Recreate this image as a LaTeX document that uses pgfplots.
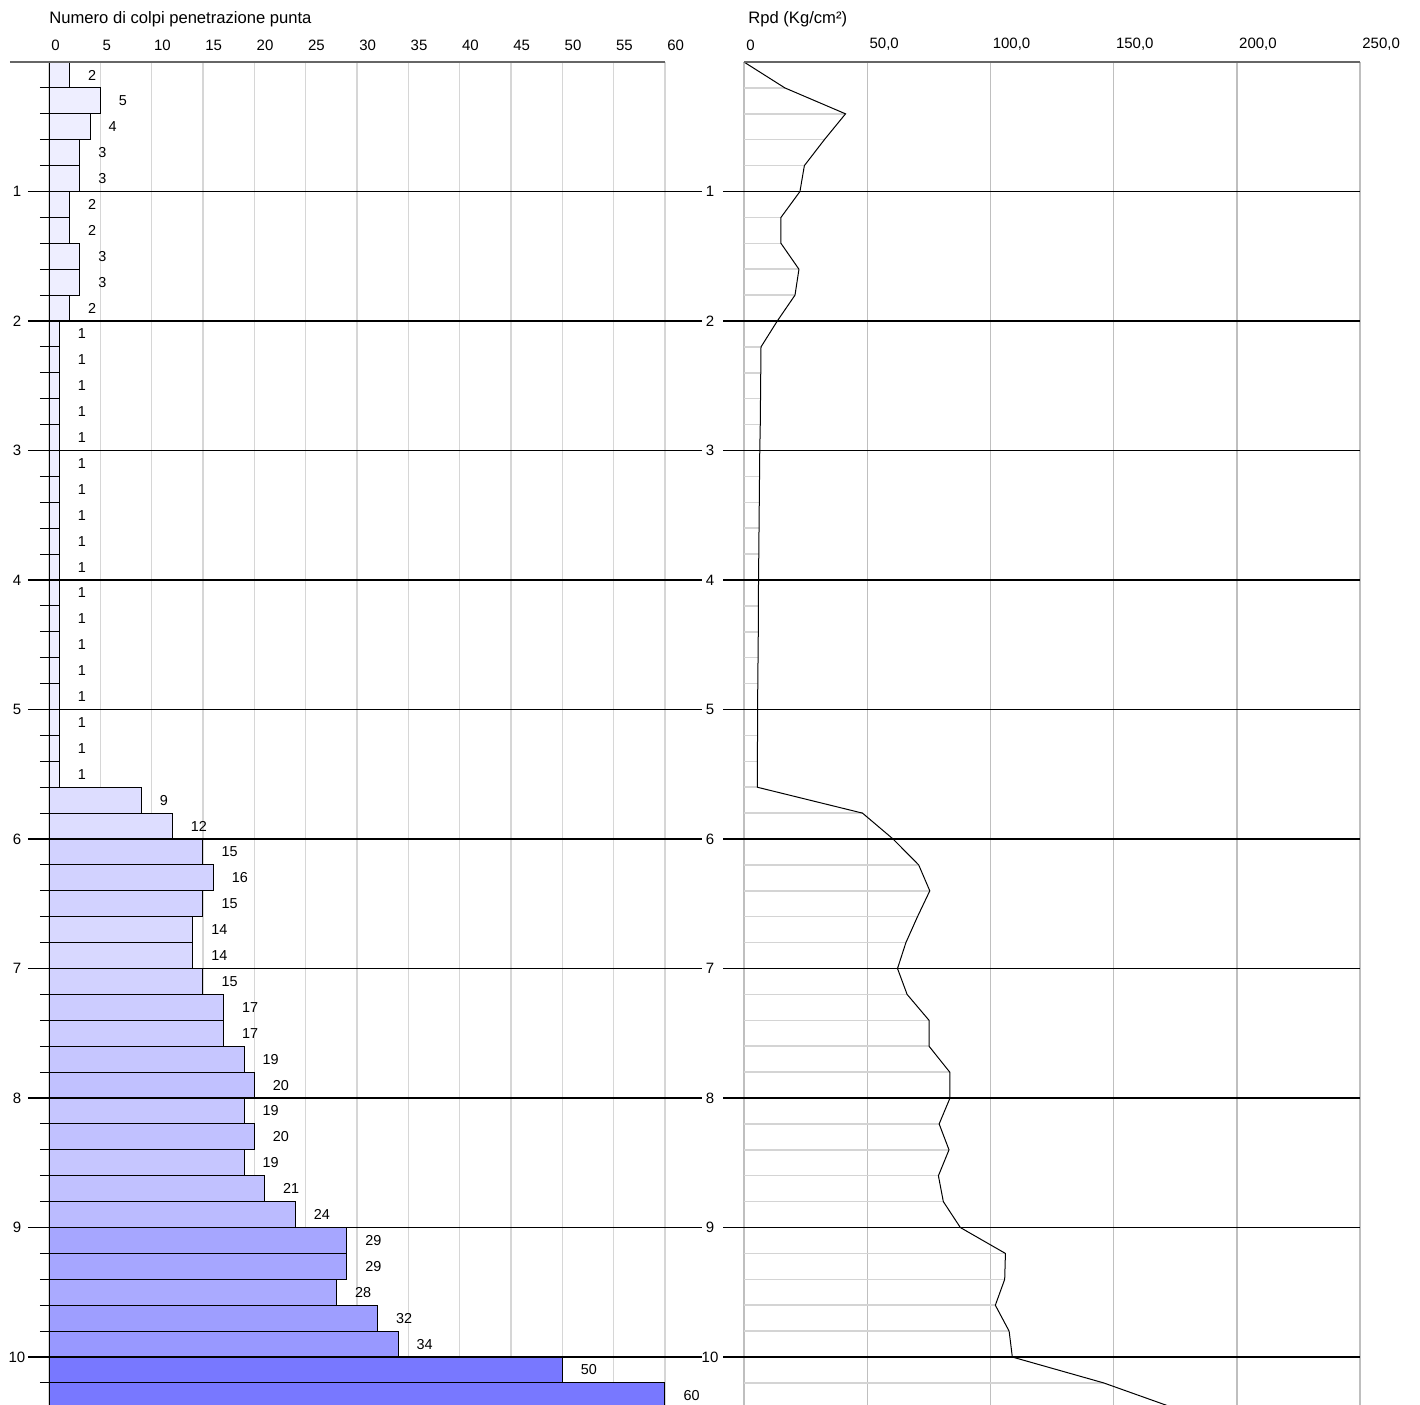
\documentclass[border=0pt]{standalone}
\usepackage{pgfplots}
\pgfplotsset{compat=1.18}
\usepackage{pgfplotstable}
\usepackage{fontspec}
\setmainfont{Liberation Sans}

\definecolor{bA}{RGB}{238,238,255}
\definecolor{bB}{RGB}{221,221,255}
\definecolor{bC}{RGB}{216,216,255}
\definecolor{bD}{RGB}{210,210,255}
\definecolor{bE}{RGB}{204,204,255}
\definecolor{bF}{RGB}{198,198,255}
\definecolor{bG}{RGB}{193,193,255}
\definecolor{bH}{RGB}{187,187,255}
\definecolor{bI}{RGB}{170,170,255}
\definecolor{bJ}{RGB}{166,166,255}
\definecolor{bK}{RGB}{158,158,255}
\definecolor{bL}{RGB}{152,152,255}
\definecolor{bM}{RGB}{120,120,255}

\pgfplotstableread{
d rpd
0.0 0
0.2 16.6
0.4 41.2
0.6 32.6
0.8 24.5
1.0 22.7
1.2 15.0
1.4 15.0
1.6 22.3
1.8 20.7
2.0 13.5
2.2 6.9
2.4 6.8
2.6 6.7
2.8 6.6
3.0 6.4
3.2 6.3
3.4 6.2
3.6 6.1
3.8 6.0
4.0 5.9
4.2 5.8
4.4 5.8
4.6 5.7
4.8 5.6
5.0 5.5
5.2 5.5
5.4 5.4
5.6 5.4
5.8 48.1
6.0 60.5
6.2 70.9
6.4 75.4
6.6 70.4
6.8 65.7
7.0 62.3
7.2 66.2
7.4 75.1
7.6 75.1
7.8 83.5
8.0 83.6
8.2 79.2
8.4 83.2
8.6 78.9
8.8 80.9
9.0 87.8
9.2 106.1
9.4 105.8
9.6 102.0
9.8 107.6
10.0 108.9
10.2 146.0
10.4 175.5
}\rpdtable

\pgfplotsset{
  panel/.style={
    scale only axis, width=308pt, height=673.4pt,
    ymin=0, ymax=10.4, y dir=reverse, enlargelimits=false, clip=false,
    axis line style={draw=none},
    /pgf/number format/assume math mode=true,
    xticklabel pos=upper,
    xmajorgrids,
    xtick style={draw=none},
    major tick length=0pt,
    ytick={1,...,10},
    ytick pos=left,
    tick align=outside,
    xticklabel style={anchor=south west, inner sep=0pt, xshift=1pt, yshift=5.5pt, font=\fontsize{7.5}{9}\selectfont},
    yticklabel style={anchor=center, inner sep=0pt, font=\fontsize{7.5}{9}\selectfont},
    title style={at={(0,1)}, anchor=base west, inner sep=0pt, yshift=13.5pt, font=\fontsize{8.3}{10}\selectfont},
  },
  barst/.style={xbar, bar width=0.2, bar shift=0pt, draw=black, line width=0.5pt,
    point meta=x, nodes near coords,
    every node near coord/.append style={anchor=west, xshift=5.7pt, black, font=\fontsize{7.2}{8}\selectfont}},
  meter/.style={black, line width=0.7pt, forget plot},
}

\begin{document}
\begin{tikzpicture}
% ---------------- left panel ----------------
\begin{axis}[panel, at={(24.5pt,-31pt)}, anchor=north west,
  xmin=0, xmax=60, xtick={0,5,...,60},
  grid style={color=black!16, line width=0.7pt},
  minor ytick={0.2,0.4,0.6,0.8,1.2,1.4,1.6,1.8,2.2,2.4,2.6,2.8,3.2,3.4,3.6,3.8,4.2,4.4,4.6,4.8,
    5.2,5.4,5.6,5.8,6.2,6.4,6.6,6.8,7.2,7.4,7.6,7.8,8.2,8.4,8.6,8.8,9.2,9.4,9.6,9.8,10.2},
  minor tick length=4.5pt,
  minor y tick style={black, line width=0.5pt},
  yticklabel style={xshift=-16pt},
  title={Numero di colpi penetrazione punta}]
\addplot[barst, fill=bA] coordinates {(2,0.1) (5,0.3) (4,0.5) (3,0.7) (3,0.9) (2,1.1) (2,1.3) (3,1.5) (3,1.7) (2,1.9)
  (1,2.1) (1,2.3) (1,2.5) (1,2.7) (1,2.9) (1,3.1) (1,3.3) (1,3.5) (1,3.7) (1,3.9)
  (1,4.1) (1,4.3) (1,4.5) (1,4.7) (1,4.9) (1,5.1) (1,5.3) (1,5.5)};
\addplot[barst, fill=bB] coordinates {(9,5.7) (12,5.9)};
\addplot[barst, fill=bD] coordinates {(15,6.1) (16,6.3) (15,6.5) (15,7.1)};
\addplot[barst, fill=bC] coordinates {(14,6.7) (14,6.9)};
\addplot[barst, fill=bE] coordinates {(17,7.3) (17,7.5)};
\addplot[barst, fill=bF] coordinates {(19,7.7) (19,8.1) (19,8.5)};
\addplot[barst, fill=bG] coordinates {(20,7.9) (20,8.3) (21,8.7)};
\addplot[barst, fill=bH] coordinates {(24,8.9)};
\addplot[barst, fill=bJ] coordinates {(29,9.1) (29,9.3)};
\addplot[barst, fill=bI] coordinates {(28,9.5)};
\addplot[barst, fill=bK] coordinates {(32,9.7)};
\addplot[barst, fill=bL] coordinates {(34,9.9)};
\addplot[barst, fill=bM] coordinates {(50,10.1) (60,10.3)};
\pgfplotsinvokeforeach{1,...,10}{
  \addplot[meter] coordinates {(-2.05,#1) (63.6,#1)};
}
\addplot[black!60, line width=1pt, forget plot] coordinates {(-3.8,0) (60,0)};
\end{axis}
% ---------------- right panel ----------------
\begin{axis}[panel, at={(372pt,-31pt)}, anchor=north west,
  xmin=0, xmax=250, xtick={0,50,...,250},
  xticklabels={0,{50,0},{100,0},{150,0},{200,0},{250,0}},
  grid style={color=black!25, line width=0.7pt},
  yticklabel style={xshift=-17pt},
  title={Rpd (Kg/cm²)}, title style={xshift=2pt}]
\addplot[xcomb, black!17, line width=0.75pt, forget plot] table[x=rpd, y=d] {\rpdtable};
\pgfplotsinvokeforeach{1,...,10}{
  \addplot[meter] coordinates {(-8.5,#1) (250,#1)};
}
\addplot[black, line width=0.5pt] table[x=rpd, y=d] {\rpdtable};
\addplot[black!60, line width=1pt, forget plot] coordinates {(0,0) (250,0)};
\end{axis}
\pgfresetboundingbox
\path[use as bounding box] (0,0) rectangle (710pt,-702pt);
\end{tikzpicture}
\end{document}
